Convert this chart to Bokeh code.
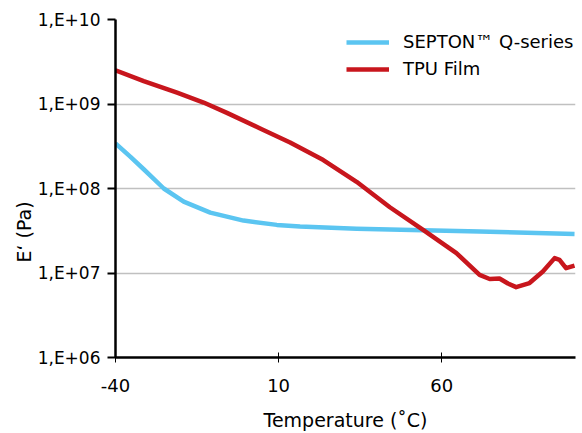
import numpy as np
from bokeh.plotting import figure
from bokeh.models import (FixedTicker, CustomJSTickFormatter, Legend, LegendItem,
                          Title, Range1d)
from bokeh.embed import file_html
from bokeh.resources import INLINE

# ---- data ----
septon_t = [-40, -35.4, -31.35, -25.2, -19.1, -10.95, -0.76, 9.45, 16.57, 33.9, 54.3, 71.6, 100.7]
septon_E = [3.41e8, 2.37e8, 1.69e8, 1.0e8, 6.98e7, 5.18e7, 4.17e7, 3.71e7, 3.54e7,
            3.33e7, 3.21e7, 3.09e7, 2.9e7]

tpu_t = [-40, -31.35, -21.13, -13.0, -5.84, 4.34, 13.52, 23.7, 33.9, 44.1, 54.28, 64.5,
         71.6, 74.7, 77.7, 80.3, 82.8, 86.9, 91.0, 94.6, 96.1, 98.1, 100.7]
tpu_E = [2.5e9, 1.87e9, 1.36e9, 1.04e9, 7.85e8, 5.13e8, 3.51e8, 2.17e8, 1.2e8, 6.0e7,
         3.24e7, 1.72e7, 9.5e6, 8.5e6, 8.6e6, 7.5e6, 6.8e6, 7.6e6, 1.04e7, 1.5e7,
         1.43e7, 1.14e7, 1.22e7]

x_ticks = [-40, 10, 60]
y_ticks = [1e6, 1e7, 1e8, 1e9, 1e10]

series_names = ["SEPTON\u2122 Q-series", "TPU Film"]
x_title = "Temperature (\u02daC)"
y_title = "E\u2018 (Pa)"

FONT = "DejaVu Sans"
BLUE = "#5BC5F1"
RED = "#C8161D"

p = figure(width=582, height=433, y_axis_type="log",
           x_range=Range1d(-40, 101), y_range=Range1d(1e6, 1e10),
           output_backend="svg", toolbar_location=None,
           min_border_left=115, min_border_top=19, min_border_right=7,
           min_border_bottom=75)
p.outline_line_color = None
p.background_fill_color = "white"
p.border_fill_color = "white"

r1 = p.line(septon_t, septon_E, line_color=BLUE, line_width=4.5, line_join="round")
r2 = p.line(tpu_t, tpu_E, line_color=RED, line_width=4.5, line_join="round")

# grid
p.xgrid.grid_line_color = None
p.ygrid.grid_line_color = "#C0C0C0"
p.ygrid.grid_line_width = 1.5
p.ygrid.ticker = FixedTicker(ticks=y_ticks)

# axes
xa = p.xaxis[0]
xa.ticker = FixedTicker(ticks=x_ticks)
xa.formatter = CustomJSTickFormatter(code="return String(tick);")
xa.axis_line_color = "black"
xa.axis_line_width = 2.5
xa.major_tick_line_color = "black"
xa.major_tick_line_width = 1
xa.major_tick_in = 5
xa.major_tick_out = 5
xa.minor_tick_line_color = None
xa.major_label_text_font = FONT
xa.major_label_text_font_size = "18px"
xa.major_label_text_color = "black"
xa.major_label_standoff = 16
xa.axis_label = x_title
xa.axis_label_text_font = FONT
xa.axis_label_text_font_size = "19px"
xa.axis_label_text_font_style = "normal"
xa.axis_label_text_color = "black"
xa.axis_label_standoff = 14

ya = p.yaxis[0]
ya.ticker = FixedTicker(ticks=y_ticks)
ya.formatter = CustomJSTickFormatter(code="""
    const e = Math.round(Math.log10(tick));
    return "1,E+" + String(e).padStart(2, "0");
""")
ya.axis_line_color = "black"
ya.axis_line_width = 2.5
ya.major_tick_line_color = "black"
ya.major_tick_line_width = 2
ya.major_tick_in = 0
ya.major_tick_out = 8
ya.minor_tick_line_color = None
ya.major_label_text_font = FONT
ya.major_label_text_font_size = "17px"
ya.major_label_text_color = "black"
ya.major_label_standoff = 7

# y title beside the axis, its start anchored at a fixed distance above the panel bottom
ytitle = Title(text=y_title, align="left", offset=95,
               text_font=FONT, text_font_size="19px", text_font_style="normal",
               text_color="black", standoff=0)
p.add_layout(ytitle, "left")

legend = Legend(items=[LegendItem(label=series_names[0], renderers=[r1]),
                       LegendItem(label=series_names[1], renderers=[r2])],
                location=(231, 278))
legend.border_line_color = None
legend.background_fill_alpha = 0
legend.padding = 0
legend.margin = 0
legend.spacing = 6
legend.glyph_width = 43
legend.glyph_height = 20
legend.label_height = 20
legend.label_standoff = 14
legend.label_text_font = FONT
legend.label_text_font_size = "18px"
legend.label_text_color = "black"
p.add_layout(legend)

open("out.html", "w").write(file_html(p, INLINE))
